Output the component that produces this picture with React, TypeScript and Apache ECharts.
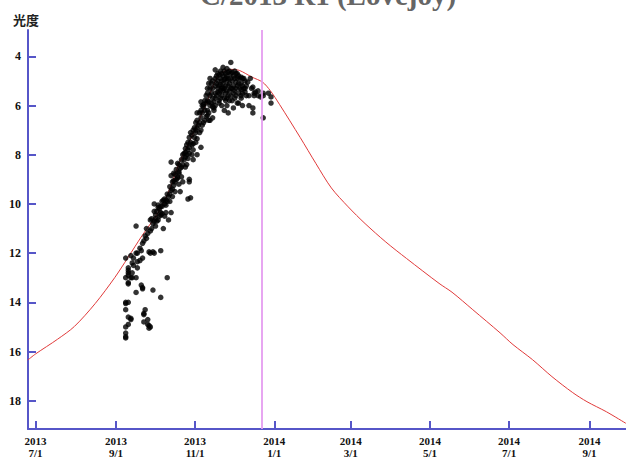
import React, { useEffect, useRef } from "react";
import * as echarts from "echarts";

// Predicted light curve (date, magnitude)
const curveDates = [
  "2013-06-25", "2013-07-01", "2013-07-18", "2013-07-31", "2013-08-16",
  "2013-08-31", "2013-09-10", "2013-09-21", "2013-10-05", "2013-10-12", "2013-10-20",
  "2013-10-30", "2013-11-10", "2013-11-18", "2013-11-25", "2013-11-29", "2013-12-05",
  "2013-12-15", "2013-12-23", "2013-12-29", "2014-01-05", "2014-01-21", "2014-02-02",
  "2014-02-14", "2014-02-27", "2014-03-12", "2014-03-28", "2014-04-13", "2014-05-08",
  "2014-05-18", "2014-06-03", "2014-06-24", "2014-07-04", "2014-07-19", "2014-08-03",
  "2014-08-19", "2014-08-30", "2014-09-14", "2014-09-29",
];
const curveMags = [
  16.35, 16.1, 15.5, 14.98, 14.05,
  13.0, 12.2, 11.3, 10.23, 9.44, 8.3,
  7.2, 5.86, 4.85, 4.57, 4.53, 4.57,
  4.85, 5.05, 5.4, 5.95, 7.3, 8.35,
  9.35, 10.12, 10.8, 11.55, 12.22, 13.23,
  13.59, 14.3, 15.24, 15.72, 16.33, 17.02,
  17.67, 18.04, 18.45, 18.92,
];

// Observed magnitudes, grouped by date
const obsGroups: Array<[string, number[]]> = [
  ["2013-09-08", [12.2, 13.0, 14.0, 14.3, 15.0, 15.25, 15.4, 15.45, 14.05]],
  ["2013-09-10", [12.6, 12.7, 12.8, 12.9, 13.2, 13.25, 14.0, 14.6, 14.9]],
  ["2013-09-12", [12.1, 13.0, 14.65, 14.7]],
  ["2013-09-13", [12.4, 12.8, 13.0]],
  ["2013-09-14", [12.2, 12.5]],
  ["2013-09-16", [10.9, 12.0, 13.0, 13.6]],
  ["2013-09-17", [12.0, 12.35, 12.6]],
  ["2013-09-19", [11.8, 12.3]],
  ["2013-09-20", [13.3, 11.9]],
  ["2013-09-21", [12.2, 13.4, 13.45, 11.6]],
  ["2013-09-22", [14.45, 14.5, 14.8, 11.5]],
  ["2013-09-23", [14.3, 11.3]],
  ["2013-09-24", [11.0, 11.4]],
  ["2013-09-25", [14.7, 14.9, 11.2]],
  ["2013-09-26", [11.95, 14.95, 15.05]],
  ["2013-09-27", [10.65, 11.1, 12.0, 15.0]],
  ["2013-09-28", [10.6, 11.0]],
  ["2013-09-29", [10.8, 11.95, 13.5]],
  ["2013-09-30", [10.0, 10.3, 10.7, 12.0]],
  ["2013-10-01", [10.45, 10.6, 10.9]],
  ["2013-10-02", [10.3, 10.7]],
  ["2013-10-03", [10.05, 10.15, 10.65]],
  ["2013-10-04", [10.2, 10.5]],
  ["2013-10-05", [10.1, 10.35, 10.45, 11.9, 13.8]],
  ["2013-10-06", [9.9, 10.1, 10.4]],
  ["2013-10-07", [9.85, 11.0]],
  ["2013-10-08", [9.8, 10.0, 10.5]],
  ["2013-10-09", [9.85, 10.05, 10.35]],
  ["2013-10-10", [9.6, 9.9, 13.0]],
  ["2013-10-11", [9.7, 10.65]],
  ["2013-10-12", [9.3, 9.6, 9.9]],
  ["2013-10-13", [8.3, 8.85, 9.45, 10.35]],
  ["2013-10-14", [9.1, 9.4, 9.7]],
  ["2013-10-15", [8.75, 9.05, 9.25]],
  ["2013-10-16", [8.8, 9.1, 9.5]],
  ["2013-10-17", [8.6, 9.0]],
  ["2013-10-18", [8.35, 8.9, 8.95]],
  ["2013-10-19", [8.4, 8.7, 8.75, 9.2]],
  ["2013-10-20", [8.55, 9.5]],
  ["2013-10-21", [8.2, 8.5, 8.9]],
  ["2013-10-22", [8.0, 8.4, 9.1]],
  ["2013-10-23", [7.95, 8.2]],
  ["2013-10-24", [7.75, 7.9, 8.1, 8.5]],
  ["2013-10-25", [7.6, 8.0, 8.4]],
  ["2013-10-26", [7.5, 7.8, 8.15, 9.8]],
  ["2013-10-27", [7.3, 7.7, 7.95, 9.0, 9.1]],
  ["2013-10-28", [7.1, 7.5, 9.75]],
  ["2013-10-29", [7.2, 7.6, 8.0]],
  ["2013-10-30", [7.0, 7.55, 7.8, 8.2]],
  ["2013-10-31", [6.9, 7.3]],
  ["2013-11-01", [6.7, 7.0, 7.1, 7.5]],
  ["2013-11-02", [6.3, 6.6, 6.9, 7.35, 8.0]],
  ["2013-11-03", [6.8]],
  ["2013-11-04", [6.3, 6.7, 7.1]],
  ["2013-11-05", [5.85, 6.2, 6.5, 7.0, 7.7]],
  ["2013-11-06", [6.0, 6.3, 6.8]],
  ["2013-11-07", [5.95, 6.05, 6.7]],
  ["2013-11-08", [5.8, 6.2, 6.6]],
  ["2013-11-09", [5.6, 5.9, 6.45]],
  ["2013-11-10", [5.3, 5.5, 5.8, 6.2, 6.4]],
  ["2013-11-11", [5.1, 5.85, 6.3, 6.6]],
  ["2013-11-12", [4.9, 5.3, 5.6, 6.0, 6.6]],
  ["2013-11-13", [5.1, 5.5, 5.9]],
  ["2013-11-14", [5.0, 5.3, 5.7, 6.05, 6.5]],
  ["2013-11-15", [5.85, 6.1, 6.2]],
  ["2013-11-16", [4.55, 4.9, 5.2, 5.5, 5.7, 6.0]],
  ["2013-11-17", [4.8, 5.1, 5.6]],
  ["2013-11-18", [4.7, 5.0, 5.3, 5.45]],
  ["2013-11-19", [4.75, 5.2, 5.5, 5.8, 5.9]],
  ["2013-11-20", [4.6, 4.9, 5.15, 5.4, 5.7]],
  ["2013-11-21", [4.7, 5.0, 5.3, 5.6, 6.0]],
  ["2013-11-22", [4.45, 4.8, 5.1, 5.3, 5.4]],
  ["2013-11-23", [4.6, 4.95, 5.3, 5.7, 6.2]],
  ["2013-11-24", [4.7, 4.9, 5.2, 5.5, 5.8]],
  ["2013-11-25", [4.5, 4.8, 5.0, 5.4, 5.7, 6.0]],
  ["2013-11-26", [4.65, 4.9, 5.2, 5.6, 6.3]],
  ["2013-11-27", [4.6, 5.1, 5.4, 5.8]],
  ["2013-11-28", [4.25, 4.7, 4.9, 5.3, 5.6]],
  ["2013-11-29", [4.65, 5.0, 5.3, 5.8]],
  ["2013-11-30", [4.8, 5.2, 5.5, 6.1]],
  ["2013-12-01", [4.6, 4.9, 5.4, 5.7]],
  ["2013-12-02", [4.7, 5.05, 5.3, 5.6]],
  ["2013-12-03", [4.7, 4.9, 5.2, 5.9]],
  ["2013-12-04", [4.8, 5.1, 5.5, 5.9]],
  ["2013-12-05", [4.9, 5.3]],
  ["2013-12-06", [4.85, 5.1, 5.35, 5.6, 5.7]],
  ["2013-12-07", [4.9, 5.2, 5.5, 6.0]],
  ["2013-12-08", [4.9, 5.3]],
  ["2013-12-09", [5.0, 5.3, 5.45]],
  ["2013-12-10", [5.2, 5.6]],
  ["2013-12-11", [5.05]],
  ["2013-12-12", [5.6, 6.0]],
  ["2013-12-13", [4.9]],
  ["2013-12-14", [5.3]],
  ["2013-12-15", [5.25, 6.1, 6.3]],
  ["2013-12-16", [5.5, 5.6]],
  ["2013-12-17", [5.45]],
  ["2013-12-19", [5.4, 5.6]],
  ["2013-12-21", [5.65]],
  ["2013-12-23", [5.5, 5.6, 6.5]],
  ["2013-12-27", [5.5]],
  ["2013-12-29", [5.65, 5.9]],
];

const perihelionDate = "2013-12-22";
const xTickDates = [
  "2013-07-01", "2013-09-01", "2013-11-01", "2014-01-01",
  "2014-03-01", "2014-05-01", "2014-07-01", "2014-09-01",
];
const yTickValues = [4, 6, 8, 10, 12, 14, 16, 18];
const xMinDate = "2013-06-25T05:00:00Z";
const xMaxDate = "2014-09-29T02:00:00Z";
const yMin = 2.93;
const yMax = 19.15;
const titleText = "C/2013 R1 (Lovejoy)";
const yName = "光度";

const ts = (s: string) => Date.parse(s.length <= 10 ? s + "T00:00:00Z" : s);

const AXIS = "#5656c8";
const LABEL_FONT = '"Liberation Serif", "DejaVu Serif", serif';

export default function App() {
  const ref = useRef<HTMLDivElement>(null);
  useEffect(() => {
    if (!ref.current) return;
    const chart = echarts.init(ref.current, undefined, { renderer: "svg" });
    const curve = curveDates.map((d, i) => [ts(d), curveMags[i]]);
    const obs: number[][] = [];
    obsGroups.forEach(([d, mags]) => mags.forEach((m) => obs.push([ts(d) + 12 * 3600 * 1000, m])));
    const xTicks = xTickDates.map(ts);
    chart.setOption({
      animation: false,
      backgroundColor: "#ffffff",
      grid: { left: 28, right: 0, top: 30, bottom: 30 },
      graphic: [
        {
          type: "text",
          x: 328,
          y: 9,
          style: {
            text: titleText,
            font: 'bold 29px "Liberation Serif", serif',
            fill: "#666",
            textAlign: "center",
            textVerticalAlign: "bottom",
            align: "center",
            verticalAlign: "bottom",
          },
        },
        {
          type: "text",
          x: 13,
          y: 13,
          style: {
            text: yName,
            font: 'bold 13px "Noto Sans CJK JP"',
            fill: "#222",
            textAlign: "left",
            textVerticalAlign: "top",
            align: "left",
            verticalAlign: "top",
          },
        },
      ],
      xAxis: {
        type: "value",
        min: ts(xMinDate),
        max: ts(xMaxDate),
        splitLine: { show: false },
        axisLine: { show: true, lineStyle: { color: AXIS, width: 2 } },
        axisTick: { show: true, inside: true, length: 8, customValues: xTicks, lineStyle: { color: AXIS, width: 2 } },
        axisLabel: {
          customValues: xTicks,
          margin: 6,
          color: "#111",
          fontFamily: LABEL_FONT,
          fontWeight: "bold",
          fontSize: 11,
          lineHeight: 12,
          formatter: (v: number) => {
            const d = new Date(v);
            return d.getUTCFullYear() + "\n" + (d.getUTCMonth() + 1) + "/" + d.getUTCDate();
          },
        },
      },
      yAxis: {
        type: "value",
        inverse: true,
        min: yMin,
        max: yMax,
        splitLine: { show: false },
        axisLine: { show: true, lineStyle: { color: AXIS, width: 2 } },
        axisTick: { show: true, inside: true, length: 8, customValues: yTickValues, lineStyle: { color: AXIS, width: 2 } },
        axisLabel: {
          customValues: yTickValues,
          margin: 7,
          color: "#111",
          fontFamily: LABEL_FONT,
          fontWeight: "bold",
          fontSize: 12,
        },
      },
      series: [
        {
          type: "line",
          data: curve,
          showSymbol: false,
          smooth: 0.3,
          lineStyle: { color: "#e03a3a", width: 1 },
          z: 2,
        },
        {
          type: "scatter",
          data: obs,
          symbol: "circle",
          symbolSize: 5.5,
          itemStyle: { color: "#000000" },
          z: 3,
          markLine: {
            silent: true,
            symbol: "none",
            label: { show: false },
            lineStyle: { color: "#e49cf0", width: 2, type: "solid", opacity: 0.9 },
            data: [{ xAxis: ts(perihelionDate) }],
          },
        },
      ],
    });
    return () => chart.dispose();
  }, []);
  return (
    <div
      ref={ref}
      style={{ position: "absolute", left: 0, top: 0, width: 626, height: 459, background: "#fff" }}
    />
  );
}
